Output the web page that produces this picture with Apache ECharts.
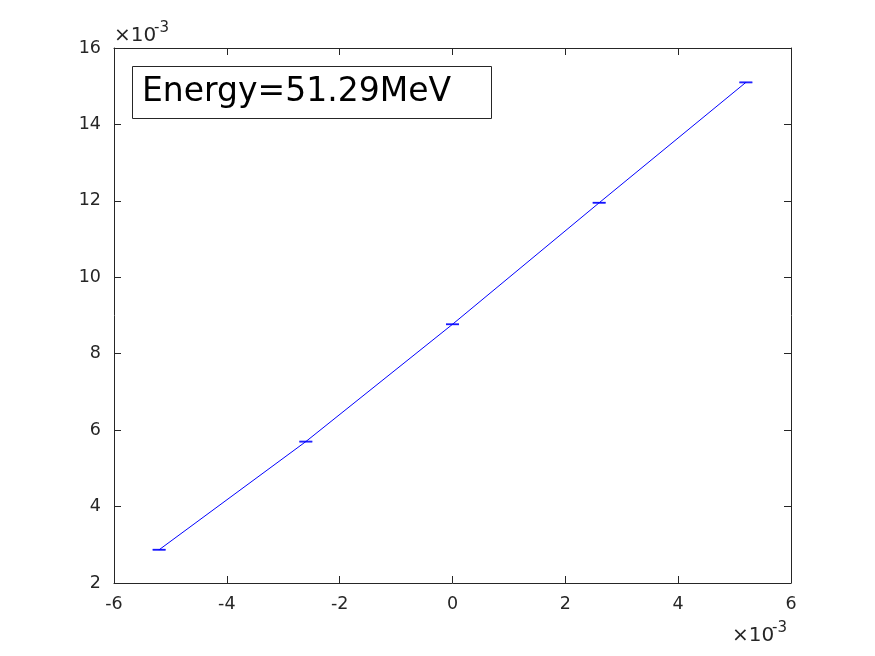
<!DOCTYPE html>
<html><head><meta charset="utf-8">
<script src="https://cdn.jsdelivr.net/npm/echarts@6/dist/echarts.min.js"></script>
<style>html,body{margin:0;padding:0;background:#fff}#c{width:875px;height:656px}</style>
</head><body><div id="c"></div>
<script>
// values in units of 1e-3
var xValues = [-5.2, -2.6, 0, 2.6, 5.2];
var yValues = [2.87, 5.70, 8.77, 11.95, 15.10];
var yErr = [0.01, 0.01, 0.01, 0.01, 0.01];
var xTicks = [-6, -4, -2, 0, 2, 4, 6];
var yTicks = [2, 4, 6, 8, 10, 12, 14, 16];
var label = 'Energy=51.29MeV';

var chart = echarts.init(document.getElementById('c'));
var font = 'DejaVu Sans';
var ink = '#262626';
var lineData = xValues.map(function (x, i) { return [x, yValues[i]]; });
var errData = xValues.map(function (x, i) { return [x, yValues[i] - yErr[i], yValues[i] + yErr[i]]; });

function axisBase(show) {
  return {
    axisLine: { show: true, onZero: false, lineStyle: { color: ink, width: 1 } },
    axisTick: { show: true, inside: true, length: 7, lineStyle: { color: ink } },
    axisLabel: { show: show, color: ink, fontFamily: font, fontSize: 17.5 },
    splitLine: { show: false }
  };
}
var xa = Object.assign(axisBase(true), { type: 'value', min: xTicks[0], max: xTicks[xTicks.length - 1], interval: 2, position: 'bottom', gridIndex: 0 });
xa.axisLabel.margin = 12;
var xa2 = Object.assign(axisBase(false), { type: 'value', min: xTicks[0], max: xTicks[xTicks.length - 1], interval: 2, position: 'top', gridIndex: 0 });
var ya = Object.assign(axisBase(true), { type: 'value', min: yTicks[0], max: yTicks[yTicks.length - 1], interval: 2, position: 'left', gridIndex: 0 });
ya.axisLabel.margin = 13;
var ya2 = Object.assign(axisBase(false), { type: 'value', min: yTicks[0], max: yTicks[yTicks.length - 1], interval: 2, position: 'right', gridIndex: 0 });

chart.setOption({
  animation: false,
  grid: { left: 114, right: 84, top: 48, bottom: 73, show: false },
  xAxis: [xa, xa2],
  yAxis: [ya, ya2],
  series: [
    { type: 'line', data: lineData, symbol: 'none', lineStyle: { color: '#0000ff', width: 1 }, xAxisIndex: 0, yAxisIndex: 0 },
    { type: 'custom', xAxisIndex: 0, yAxisIndex: 0, data: errData,
      renderItem: function (params, api) {
        var lo = api.coord([api.value(0), api.value(1)]);
        var hi = api.coord([api.value(0), api.value(2)]);
        var w = 6.5;
        var st = { stroke: '#0000ff', lineWidth: 1 };
        return { type: 'group', children: [
          { type: 'line', shape: { x1: lo[0], y1: lo[1], x2: hi[0], y2: hi[1] }, style: st },
          { type: 'line', shape: { x1: lo[0] - w, y1: lo[1], x2: lo[0] + w, y2: lo[1] }, style: st },
          { type: 'line', shape: { x1: hi[0] - w, y1: hi[1], x2: hi[0] + w, y2: hi[1] }, style: st }
        ]};
      }
    }
  ],
  graphic: [
    { type: 'rect', shape: { x: 132.5, y: 66.5, width: 359, height: 52 }, style: { fill: '#fff', stroke: ink, lineWidth: 1 }, z: 10 },
    { type: 'text', x: 142, y: 92, style: { text: label, font: '33px "DejaVu Sans"', fill: '#000', textVerticalAlign: 'middle' }, z: 11 },
    { type: 'text', x: 114, y: 36, style: { text: '×10', font: '20px "DejaVu Sans"', fill: ink, textVerticalAlign: 'middle' } },
    { type: 'text', x: 154, y: 28, style: { text: '-3', font: '15px "DejaVu Sans"', fill: ink, textVerticalAlign: 'middle' } },
    { type: 'text', x: 732, y: 636, style: { text: '×10', font: '20px "DejaVu Sans"', fill: ink, textVerticalAlign: 'middle' } },
    { type: 'text', x: 772, y: 628, style: { text: '-3', font: '15px "DejaVu Sans"', fill: ink, textVerticalAlign: 'middle' } }
  ]
});
</script></body></html>
